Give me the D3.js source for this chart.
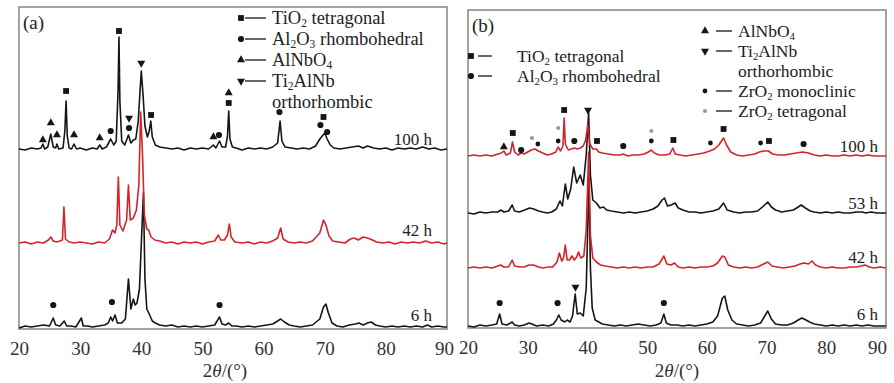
<!DOCTYPE html>
<html><head><meta charset="utf-8">
<script src="https://cdn.jsdelivr.net/npm/d3@7"></script>
<style>body{margin:0;background:#fff}</style>
</head><body>
<svg id="c" width="894" height="383"></svg>
<script>
// ---------- data ----------
const xTicks=[20,30,40,50,60,70,80,90];
const labelsA=["6 h","42 h","100 h"];
const labelsB=["6 h","42 h","53 h","100 h"];
const offsetsA=[0,84,178];
const offsetsB=[0,58,113,170];

const a6=[[20,1],[21,3],[22,2],[23,3],[24,4],[25,3],[25.6,11],[26,4],[26.7,3],[27.4,8],[27.8,3],[28.5,3],[29.3,2],[30.2,11],[30.5,3],[31.2,3],[32,2],[33,3],[34,4],[34.6,6],[35.0,12],[35.3,8],[35.7,14],[36.1,6],[36.8,6],[37.4,10],[37.9,50],[38.3,20],[38.7,30],[39.0,24],[39.3,26],[39.7,40],[40.1,100],[40.35,136],[40.6,50],[40.9,20],[41.3,15],[41.8,8],[42.3,6],[43,4],[44,3],[45,4],[46,2],[47,3],[48,2],[49,3],[50,2],[51,3],[52,4],[52.8,12],[53.2,5],[53.8,4],[54.3,6],[54.8,3],[55.5,3],[56.5,2],[57.5,3],[58.5,2],[59.5,3],[60.5,4],[61.5,5],[62.3,8],[62.8,10],[63.4,7],[64.2,4],[65,3],[66,2],[67,3],[68,4],[69.2,10],[69.8,22],[70.2,25],[70.6,16],[71.2,6],[72,3],[73,2],[74,4],[75,5],[75.6,6],[76.3,4],[77,6],[77.6,7],[78.3,4],[79,3],[80,2],[81,3],[82,2],[83,3],[84,2],[85,3],[86,2],[86.8,4],[87.5,2],[88.5,3],[89.5,2],[90,2]];
const a42=[[20,2],[21,3],[22,1],[23,3],[24,2],[24.8,5],[25.2,8],[25.6,4],[26.2,3],[27.1,5],[27.35,38],[27.6,6],[28.2,3],[29,2],[30,3],[31,2],[32,1],[33,3],[34,2],[34.8,6],[35.3,15],[35.7,12],[36.0,20],[36.25,68],[36.5,20],[37.0,14],[37.6,25],[37.9,60],[38.2,25],[38.7,27],[39.2,35],[39.6,60],[39.9,133],[40.2,90],[40.5,30],[40.9,16],[41.2,15],[41.6,8],[42.2,5],[43,4],[44,2],[45,3],[46,1],[47,3],[48,2],[49,3],[50,1],[51,3],[52,4],[52.6,10],[53.0,5],[53.6,5],[54.1,10],[54.4,21],[54.7,8],[55.3,3],[56.5,2],[57.5,3],[58.5,1],[59.5,3],[60.5,2],[61.5,4],[62.3,7],[62.8,17],[63.2,6],[64,3],[65,2],[66,3],[67,2],[68,4],[69.2,12],[69.8,25],[70.2,20],[70.7,9],[71.3,4],[72.3,3],[73.3,2],[74.2,6],[74.8,7],[75.5,5],[76.3,8],[77,7],[77.8,5],[78.5,3],[79.5,2],[80.5,3],[81.5,1],[82.5,3],[83.5,2],[84.5,3],[85.5,2],[86.5,4],[87.5,2],[88.5,3],[89.5,1],[90,2]];
const a100=[[20,2],[21,1],[22,3],[23,2],[23.6,3],[23.9,7],[24.2,2],[24.7,4],[25.2,17],[25.6,4],[26.0,3],[26.2,7],[26.5,2],[27.2,3],[27.5,20],[27.7,50],[27.9,15],[28.2,3],[28.6,2],[29.0,7],[29.4,2],[30,3],[31,1],[32,3],[32.8,2],[33.2,6],[33.6,2],[34.3,4],[35.0,12],[35.5,6],[35.9,10],[36.2,60],[36.35,114],[36.5,50],[36.8,10],[37.3,6],[37.9,16],[38.3,8],[38.7,11],[39.1,12],[39.5,30],[39.8,60],[40.0,80],[40.3,55],[40.6,25],[41.0,14],[41.3,20],[41.55,30],[41.8,14],[42.3,6],[43,4],[44,3],[45,2],[46,3],[47,1],[48,3],[49,2],[50,3],[51,2],[51.8,6],[52.2,3],[52.8,10],[53.2,4],[53.8,4],[54.1,15],[54.3,40],[54.5,12],[54.9,4],[55.5,3],[56.5,1],[57.5,3],[58.5,2],[59.5,3],[60.5,2],[61.5,4],[62.3,8],[62.7,30],[63.0,10],[63.5,4],[64.5,3],[65.5,2],[66.5,3],[67.5,2],[68.5,5],[69.2,12],[69.6,15],[70.0,18],[70.4,12],[70.9,6],[71.5,3],[72.5,2],[73.5,3],[74.5,4],[75.5,5],[76.3,3],[77,5],[78,3],[79,2],[80,3],[81,1],[82,3],[83,2],[84,3],[85,2],[86,4],[87,2],[88,3],[89,1],[90,2]];

const b6=[[20,2],[21,1],[22,3],[23,2],[24,3],[24.8,4],[25.3,14],[25.7,4],[26.5,3],[27.4,6],[27.8,3],[28.6,2],[29.4,3],[30.2,5],[30.7,4],[31.5,2],[32.5,3],[33.5,2],[34.3,4],[34.8,8],[35.2,13],[35.6,8],[36.2,6],[36.6,8],[37.1,6],[37.5,12],[37.95,34],[38.3,14],[38.8,15],[39.3,12],[39.8,40],[40.25,149],[40.5,60],[40.8,20],[41.3,8],[41.9,6],[42.5,4],[43.5,3],[44.5,2],[45.5,3],[46.5,2],[47.5,3],[48.5,4],[49.5,3],[50.5,2],[51.5,3],[52.3,5],[52.8,14],[53.2,5],[54,3],[55,3],[56,2],[57,3],[58,2],[59,3],[60,4],[61,6],[61.8,12],[62.6,30],[63.0,32],[63.5,18],[64.2,8],[65,4],[66,3],[67,2],[68,3],[69,5],[69.7,12],[70.2,17],[70.8,9],[71.5,4],[72.5,3],[73.5,3],[74.5,5],[75.3,8],[75.9,10],[76.6,8],[77.2,6],[78,4],[79,3],[80,2],[81,3],[82,2],[83,3],[84,2],[85,3],[86,2],[87,3],[88,2],[89,2],[90,2]];
const b42=[[20,2],[21,3],[22,2],[23,3],[24,2],[25,4],[25.5,5],[26,3],[26.8,3],[27.4,10],[27.8,4],[28.6,3],[29.4,3],[30.2,5],[31,5],[31.8,3],[32.6,2],[33.4,3],[34.2,3],[34.9,8],[35.3,17],[35.7,9],[36.0,12],[36.3,25],[36.6,10],[37.0,10],[37.4,14],[37.8,10],[38.2,13],[38.5,18],[38.9,12],[39.4,14],[39.8,40],[40.2,118],[40.5,35],[40.9,12],[41.5,8],[42.2,5],[43,4],[44,3],[45,2],[46,3],[47,2],[48,3],[49,2],[50,3],[51,3],[52,6],[52.8,14],[53.3,6],[54,5],[54.6,7],[55.2,3],[56,2],[57,3],[58,2],[59,3],[60,3],[61,4],[61.8,7],[62.6,14],[63.0,13],[63.6,5],[64.5,3],[65.5,2],[66.5,3],[67.5,2],[68.5,3],[69.5,6],[70.2,8],[70.9,4],[71.8,3],[72.8,2],[73.8,3],[74.8,4],[75.6,6],[76.3,7],[77.0,6],[77.6,9],[78.2,5],[79,3],[80,2],[81,3],[82,2],[83,2],[84,3],[85,3],[85.8,4],[86.5,5],[87.2,3],[88,2],[89,3],[90,2]];
const b53=[[20,2],[21,1],[22,3],[23,2],[24,3],[25,3],[25.5,5],[26,3],[26.8,4],[27.4,10],[27.8,4],[28.6,3],[29.5,5],[30.3,7],[31.0,6],[31.8,4],[32.5,3],[33.3,2],[34,3],[34.8,6],[35.4,14],[35.8,9],[36.3,31],[36.7,16],[37.2,26],[37.7,48],[38.2,32],[38.8,40],[39.3,30],[39.8,60],[40.2,102],[40.5,40],[40.9,15],[41.5,12],[42.1,7],[42.7,8],[43.2,5],[44,4],[45,3],[46,2],[47,3],[48,2],[49,3],[50,4],[51,6],[51.8,9],[52.5,15],[52.9,17],[53.4,9],[54,10],[54.7,12],[55.2,7],[56,5],[57,3],[58,3],[59,2],[60,3],[61,4],[62,6],[62.8,12],[63.4,5],[64.5,3],[65.5,2],[66.5,3],[67.5,3],[68.5,4],[69.5,9],[70.2,13],[70.8,8],[71.5,5],[72.5,3],[73.5,4],[74.5,5],[75.3,8],[75.8,10],[76.5,7],[77.3,4],[78,3],[79,2],[80,3],[81,2],[82,3],[83,2],[84,2],[85,3],[86,3],[86.6,2],[87.5,3],[88.5,2],[89.5,2],[90,2]];
const b100=[[20,2],[21,3],[22,2],[23,3],[24,2],[25,4],[25.6,5],[26.0,7],[26.4,3],[27.1,5],[27.45,16],[27.8,6],[28.4,3],[28.9,5],[29.4,4],[30,6],[30.6,8],[31.2,9],[31.8,7],[32.5,5],[33.3,3],[34,4],[34.7,6],[35.1,11],[35.5,7],[35.9,12],[36.1,40],[36.3,14],[36.8,8],[37.3,9],[37.8,10],[38.3,9],[38.8,10],[39.3,12],[39.7,18],[40.05,33],[40.4,14],[40.9,9],[41.5,9],[41.9,6],[42.5,5],[43.5,4],[44.5,3],[45.5,3],[46,4],[46.8,2],[47.5,3],[48.5,3],[49.5,4],[50.2,6],[50.7,8],[51.2,5],[52,3],[53,3],[53.8,4],[54.3,10],[54.7,4],[55.5,3],[56.5,2],[57.5,3],[58.5,4],[59.5,5],[60.5,7],[61.3,9],[62.0,13],[62.8,20],[63.3,13],[64,6],[65,3],[66,2],[67,3],[68,4],[68.8,6],[69.5,7],[70.3,7],[71,4],[72,3],[73,3],[74,4],[75,5],[76,6],[77,5],[78,3],[79,2],[80,3],[81,2],[82,2],[83,3],[84,2],[85,3],[86,2],[87,3],[88,2],[89,2],[90,2]];

// markers: [phase, 2theta, height above trace offset]
const markA100=[["tri",23.9,11],["tri",25.2,28],["tri",26.2,16],["sq",27.7,60],["tri",29.0,16],["tri",33.2,13],["dot",35.0,20],["sq",36.35,120],["dtri",38.0,33],["dot",38.0,23],["dtri",40.0,88],["sq",41.6,36],["tri",51.8,14],["dot",52.7,16],["tri",54.3,58],["sq",54.3,48],["dot",62.6,39],["dot",69.3,26],["sq",69.8,34],["dot",70.4,19]];
const markA6=[["dot",25.6,24],["dot",35.2,27],["dot",52.8,24]];
const markB100=[["tri",26.0,11],["sq",27.5,25],["dot",28.9,8],["zt",30.7,20],["zm",31.7,14],["zt",35.1,30],["zm",35.1,17],["sq",36.1,48],["dot",37.8,17],["dtri",40.1,48],["sq",41.6,17],["dot",46.0,12],["zt",50.7,27],["zm",50.7,17],["sq",54.4,18],["zm",60.6,15],["sq",62.8,29],["zm",69.0,15],["sq",70.4,17],["dot",76.2,14]];
const markB6=[["dot",25.3,25],["dot",35.0,25],["dtri",38.0,41],["dot",52.8,25]];

const legendA=[["sq",["TiO","2"," tetragonal"]],["dot",["Al","2","O","3"," rhombohedral"]],["tri",["AlNbO","4",""]],["dtri",["Ti","2","AlNb"]],[null,["orthorhombic"]]];
const legendB1=[["sq",["TiO","2"," tetragonal"]],["dot",["Al","2","O","3"," rhombohedral"]]];
const legendB2=[["tri",["AlNbO","4",""]],["dtri",["Ti","2","AlNb"]],[null,["orthorhombic"]],["zm",["ZrO","2"," monoclinic"]],["zt",["ZrO","2"," tetragonal"]]];

// ---------- drawing ----------
const svg=d3.select("#c");
const BLACK="#161616", RED="#d3242b", FRAME="#8c8c8c";
const FONT="'Liberation Serif','Times New Roman',serif";

function symbolPath(t){
  const g=d3.symbol();
  if(t==="sq") return g.type(d3.symbolSquare).size(34)();
  if(t==="dot") return g.type(d3.symbolCircle).size(30)();
  if(t==="tri"||t==="dtri") return g.type(d3.symbolTriangle).size(28)();
  if(t==="zm") return g.type(d3.symbolCircle).size(18)();
  if(t==="zt") return g.type(d3.symbolCircle).size(14)();
}
function drawSym(g,t,x,y){
  g.append("path").attr("d",symbolPath(t))
   .attr("transform",`translate(${x},${y})${t==="dtri"?" rotate(180)":""}`)
   .attr("fill",t==="zt"?"#9a9a9a":BLACK);
}
function richText(g,parts,x,y,size){
  const t=g.append("text").attr("x",x).attr("y",y).attr("font-family",FONT).attr("font-size",size).attr("fill","#222");
  parts.forEach((p,i)=>{
    if(p==="") return;
    const sub = i%2===1;
    const ts=t.append("tspan").text(p);
    if(sub) ts.attr("font-size",size*0.62).attr("dy",3);
    else if(i>0) ts.attr("dy",-3);
  });
}

function panel(cfg){
  const x=d3.scaleLinear().domain([20,90]).range([cfg.x0,cfg.x1]);
  const y=d3.scaleLinear().domain([0,cfg.y1-cfg.y0]).range([cfg.y1,cfg.y0]);
  const g=svg.append("g");
  g.append("rect").attr("x",cfg.x0).attr("y",cfg.y0).attr("width",cfg.x1-cfg.x0).attr("height",cfg.y1-cfg.y0)
   .attr("fill","none").attr("stroke",FRAME).attr("stroke-width",1.6);
  cfg.series.forEach((s,i)=>{
    const line=d3.line().x(d=>x(d[0])).y(d=>y(d[1]+cfg.offsets[i]));
    g.append("path").datum(s.data).attr("d",line).attr("fill","none")
      .attr("stroke",s.color).attr("stroke-width",1.6).attr("stroke-linejoin","round");
  });
  cfg.markers.forEach(m=>{
    m.list.forEach(d=>drawSym(g,d[0],x(d[1]),y(d[2]+m.off)));
  });
  const ax=g.append("g").attr("transform",`translate(0,${cfg.y1})`)
    .call(d3.axisBottom(x).tickValues(xTicks).tickSize(0).tickPadding(13).tickFormat(d3.format("d")));
  ax.select(".domain").remove();
  ax.selectAll("text").attr("font-family",FONT).attr("font-size",19).attr("fill","#333")
    .attr("dx",d=>d===90?cfg.lastDx:0);
  const tt=g.append("text").attr("x",cfg.titleX).attr("y",377).attr("text-anchor","middle")
    .attr("font-family",FONT).attr("font-size",19).attr("fill","#333");
  tt.append("tspan").text("2");
  tt.append("tspan").attr("font-style","italic").text("θ");
  tt.append("tspan").text("/(°)");
  g.append("text").attr("x",cfg.x0+4).attr("y",cfg.y0+22).attr("font-family",FONT).attr("font-size",19).attr("fill","#222").text(cfg.tag);
  cfg.labels.forEach((l,i)=>{
    g.append("text").attr("x",cfg.labelX).attr("y",y(cfg.labelOff[i])-cfg.labelDy[i])
     .attr("text-anchor","end").attr("font-family",FONT).attr("font-size",17).attr("fill","#222").text(l);
  });
  return g;
}

const gA=panel({x0:19,x1:447,y0:7,y1:329,tag:"(a)",titleX:225,lastDx:-3,
  series:[{data:a6,color:BLACK},{data:a42,color:RED},{data:a100,color:BLACK}],
  offsets:offsetsA,labels:labelsA,labelOff:offsetsA,labelX:432,labelDy:[8,9,6],
  markers:[{off:offsetsA[2],list:markA100},{off:offsetsA[0],list:markA6}]});
const gB=panel({x0:468,x1:886,y0:10,y1:328,tag:"(b)",titleX:677,lastDx:-9,
  series:[{data:b6,color:BLACK},{data:b53,color:BLACK},{data:b42,color:RED},{data:b100,color:RED}],
  offsets:[offsetsB[0],offsetsB[2],offsetsB[1],offsetsB[3]],
  labels:labelsB,labelOff:offsetsB,labelX:878,labelDy:[8,7,6,6],
  markers:[{off:offsetsB[3],list:markB100},{off:offsetsB[0],list:markB6}]});

function legend(g,items,sx,lx0,lx1,tx,y0,dy,fs){
  items.forEach((it,i)=>{
    const yy=y0+i*dy;
    if(it[0]){
      drawSym(g,it[0],sx,yy);
      g.append("line").attr("x1",lx0).attr("x2",lx1).attr("y1",yy).attr("y2",yy).attr("stroke",BLACK).attr("stroke-width",1.3);
    }
    richText(g,it[1],tx,yy+6,fs);
  });
}
legend(gA,legendA,241,245,266,272,18,21,18.5);
legend(gB,legendB1,471,478,492,517,56,20,17.5);
legend(gB,legendB2,705,716,732,738,31,20,17.5);
</script>
</body></html>
